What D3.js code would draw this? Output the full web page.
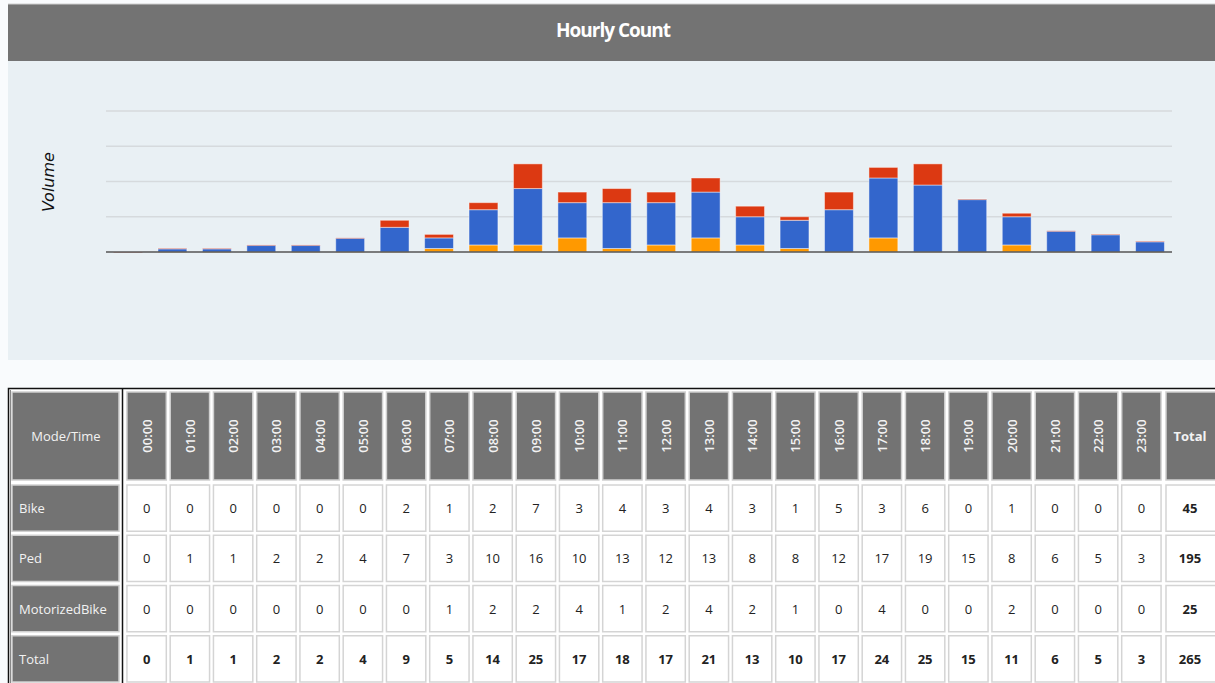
<!DOCTYPE html>
<html>
<head>
<meta charset="utf-8">
<script src="https://cdn.jsdelivr.net/npm/d3@7"></script>
<style>
  html, body { margin: 0; padding: 0; background: #f9fbfd; overflow: hidden; }
  svg { display: block; font-family: "Open Sans", Lato, sans-serif; }
</style>
</head>
<body>
<div id="chart"></div>
<script>
// Datos
const hours = ["00:00","01:00","02:00","03:00","04:00","05:00","06:00","07:00","08:00","09:00","10:00","11:00",
               "12:00","13:00","14:00","15:00","16:00","17:00","18:00","19:00","20:00","21:00","22:00","23:00"]
const bike  = [0,0,0,0,0,0,2,1,2,7,3,4,3,4,3,1,5,3,6,0,1,0,0,0]
const ped   = [0,1,1,2,2,4,7,3,10,16,10,13,12,13,8,8,12,17,19,15,8,6,5,3]
const motor = [0,0,0,0,0,0,0,1,2,2,4,1,2,4,2,1,0,4,0,0,2,0,0,0]
const modes = ["Bike", "Ped", "MotorizedBike"]
const yTicks = [0, 10, 20, 30, 40]

const width = 1215, height = 683

const svg = d3.select("#chart")
    .append("svg")
    .attr("width", width)
    .attr("height", height)

// Cabecera
svg.append("rect").attr("x", 8).attr("y", 4).attr("width", width - 8).attr("height", 57).attr("fill", "#737373")
svg.append("line").attr("x1", 8).attr("x2", width).attr("y1", 4).attr("y2", 4).attr("stroke", "#cfcfcf")
svg.append("text")
    .attr("x", 613).attr("y", 37)
    .attr("text-anchor", "middle")
    .attr("fill", "#fff")
    .attr("font-weight", "bold")
    .attr("font-size", 19)
    .attr("letter-spacing", -1)
    .text("Hourly Count")

// Panel del gráfico
svg.append("rect").attr("x", 8).attr("y", 61).attr("width", width - 8).attr("height", 299).attr("fill", "#e9f0f4")

// Escalas
const x = d3.scaleBand().domain(hours).range([106, 1172]).paddingInner(0.35).paddingOuter(0.17)
const y = d3.scaleLinear().domain([0, 40]).range([252, 111])

// Líneas de cuadrícula
svg.append("g")
    .selectAll("line")
    .data(yTicks.filter(d => d > 0))
    .join("line")
    .attr("x1", 106).attr("x2", 1172)
    .attr("y1", d => y(d)).attr("y2", d => y(d))
    .attr("stroke", "#d6dadd")
    .attr("stroke-width", 1.5)

// Apilado: motorizada abajo, peatón en medio, bici arriba
const rows = hours.map((h, i) => ({ hour: h, motor: motor[i], ped: ped[i], bike: bike[i] }))
const stack = d3.stack().keys(["motor", "ped", "bike"])(rows)
const colors = { motor: "#ff9900", ped: "#3366cc", bike: "#dc3912" }

svg.append("g")
    .selectAll("g")
    .data(stack)
    .join("g")
    .attr("fill", s => colors[s.key])
    .selectAll("rect")
    .data(s => s)
    .join("rect")
    .attr("x", d => x(d.data.hour))
    .attr("width", x.bandwidth())
    .attr("y", d => y(d[1]))
    .attr("height", d => Math.max(y(d[0]) - y(d[1]), 0.6))
    .attr("stroke", "#fff")
    .attr("stroke-opacity", 0.45)
    .attr("stroke-width", 1)

// Eje base
svg.append("line")
    .attr("x1", 106).attr("x2", 1172)
    .attr("y1", y(0)).attr("y2", y(0))
    .attr("stroke", "#555")
    .attr("stroke-width", 1.5)

svg.append("text")
    .attr("transform", "rotate(-90)")
    .attr("x", -182).attr("y", 54)
    .attr("text-anchor", "middle")
    .attr("font-family", "'DejaVu Sans', sans-serif")
    .attr("font-style", "italic")
    .attr("font-size", 16)
    .attr("fill", "#111")
    .text("Volume")

// Tabla
const cols = d3.scaleBand().domain(hours).range([125, 1163]).paddingInner(0.09).paddingOuter(0.045)
const rowY = d3.scaleBand().domain(modes.concat(["Total"])).range([483, 684]).paddingInner(0.08).paddingOuter(0.04)
const totalX = 1166, totalW = 60
const headY = 392, headH = 88

const table = svg.append("g")

table.append("rect")
    .attr("x", 8.5).attr("y", 388.5).attr("width", width).attr("height", 300)
    .attr("fill", "#fff").attr("stroke", "#111").attr("stroke-width", 1.5)
table.append("line")
    .attr("x1", 10.5).attr("x2", 10.5).attr("y1", 390).attr("y2", height)
    .attr("stroke", "#888")
table.append("line")
    .attr("x1", 122.5).attr("x2", 122.5).attr("y1", 388).attr("y2", height)
    .attr("stroke", "#111").attr("stroke-width", 1.5)

const grayCell = (g, xx, yy, w, h) => g.append("rect")
    .attr("x", xx).attr("y", yy).attr("width", w).attr("height", h)
    .attr("fill", "#737373").attr("stroke", "#d0d0d0").attr("stroke-width", 1.5)

// Cabecera de la tabla
grayCell(table, 12, headY, 107, headH)
table.append("text")
    .attr("x", 66).attr("y", headY + headH / 2 + 5)
    .attr("text-anchor", "middle").attr("fill", "#f2f2f2").attr("font-size", 13)
    .text("Mode/Time")

hours.forEach(h => {
    grayCell(table, cols(h), headY, cols.bandwidth(), headH)
    table.append("text")
        .attr("transform", `translate(${cols(h) + cols.bandwidth() / 2 + 5},${headY + headH / 2}) rotate(-90)`)
        .attr("text-anchor", "middle").attr("fill", "#f2f2f2").attr("font-size", 13).attr("font-weight", 600)
        .text(h)
})
grayCell(table, totalX, headY, totalW, headH)
table.append("text")
    .attr("x", totalX + 24).attr("y", headY + headH / 2 + 5)
    .attr("text-anchor", "middle").attr("fill", "#f2f2f2").attr("font-size", 13).attr("font-weight", "bold")
    .text("Total")

// Filas
const values = { Bike: bike, Ped: ped, MotorizedBike: motor }
values.Total = hours.map((h, i) => bike[i] + ped[i] + motor[i])

rowY.domain().forEach(m => {
    const ry = rowY(m), rh = rowY.bandwidth()
    const bold = m === "Total"
    grayCell(table, 12, ry, 107, rh)
    table.append("text")
        .attr("x", 19).attr("y", ry + rh / 2 + 5)
        .attr("fill", "#f2f2f2").attr("font-size", 13)
        .text(m)

    values[m].forEach((v, i) => {
        table.append("rect")
            .attr("x", cols(hours[i])).attr("y", ry)
            .attr("width", cols.bandwidth()).attr("height", rh)
            .attr("fill", "#fff").attr("stroke", "#d4d4d4").attr("stroke-width", 1.5)
        table.append("text")
            .attr("x", cols(hours[i]) + cols.bandwidth() / 2).attr("y", ry + rh / 2 + 5)
            .attr("text-anchor", "middle").attr("fill", "#222").attr("font-size", 13)
            .attr("font-weight", bold ? "bold" : "normal")
            .text(v)
    })

    table.append("rect")
        .attr("x", totalX).attr("y", ry).attr("width", totalW).attr("height", rh)
        .attr("fill", "#fff").attr("stroke", "#d4d4d4").attr("stroke-width", 1.5)
    table.append("text")
        .attr("x", totalX + 24).attr("y", ry + rh / 2 + 5)
        .attr("text-anchor", "middle").attr("fill", "#222").attr("font-size", 13).attr("font-weight", "bold")
        .text(d3.sum(values[m]))
})
</script>
</body>
</html>
